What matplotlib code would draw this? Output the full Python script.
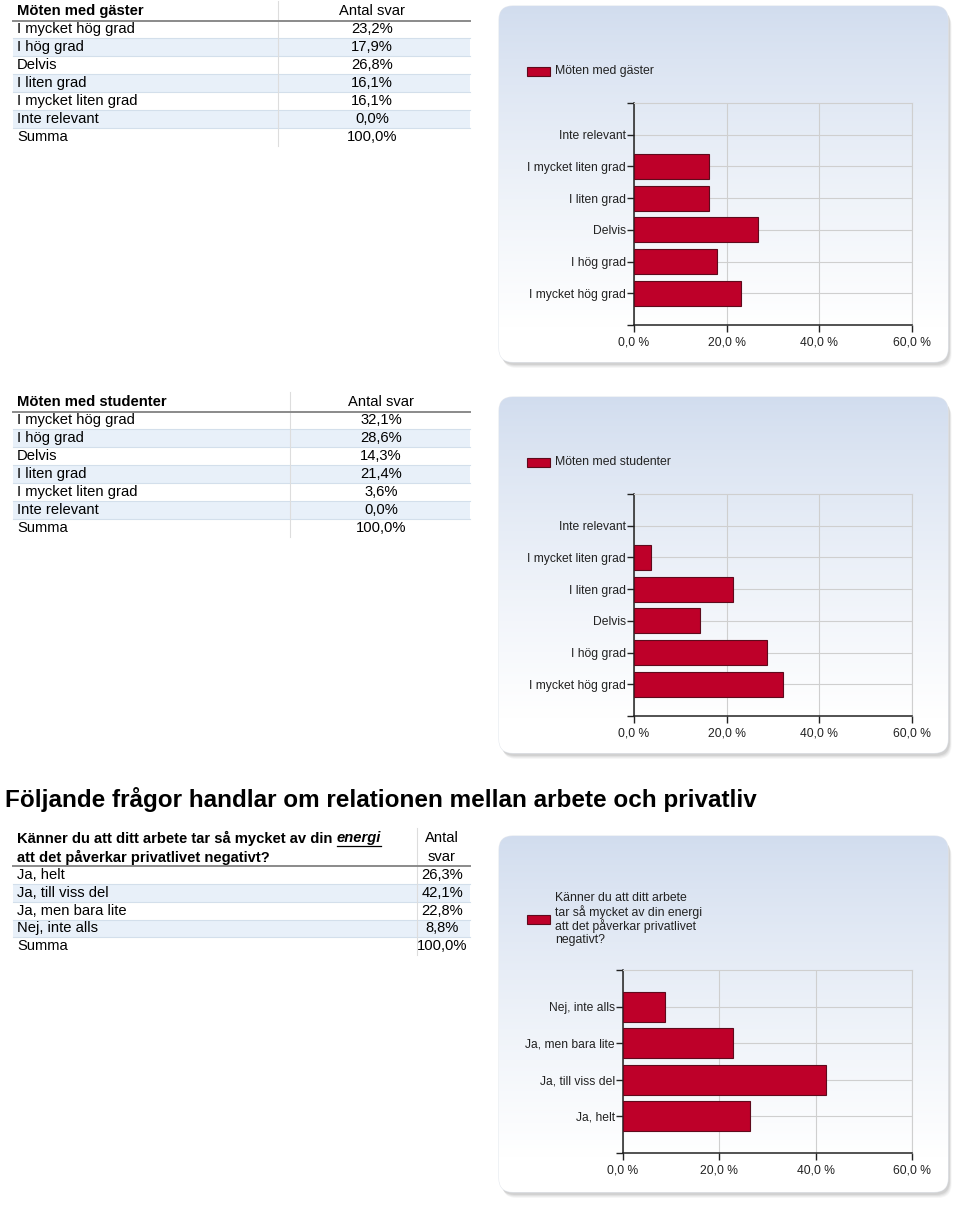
import numpy as np
import matplotlib
matplotlib.use("Agg")
import matplotlib.pyplot as plt
from matplotlib.patches import FancyBboxPatch, Rectangle

# ---------------- data ----------------
cats_grad = ["I mycket hög grad", "I hög grad", "Delvis", "I liten grad",
             "I mycket liten grad", "Inte relevant"]
gaster = [23.2, 17.9, 26.8, 16.1, 16.1, 0.0]
studenter = [32.1, 28.6, 14.3, 21.4, 3.6, 0.0]
cats_energi = ["Ja, helt", "Ja, till viss del", "Ja, men bara lite", "Nej, inte alls"]
energi = [26.3, 42.1, 22.8, 8.8]
summa = 100.0
x_ticks = [0, 20, 40, 60]

title1 = "Möten med gäster"
title2 = "Möten med studenter"
section_title = "Följande frågor handlar om relationen mellan arbete och privatliv"
q3_line1a = "Känner du att ditt arbete tar så mycket av din "
q3_line1b = "energi"
q3_line2 = "att det påverkar privatlivet negativt?"
legend3 = "Känner du att ditt arbete\ntar så mycket av din energi\natt det påverkar privatlivet\nnegativt?"

def pct(v):
    return f"{v:.1f}%".replace(".", ",")

def tick_lab(v):
    return f"{v:.1f} %".replace(".", ",")

# ---------------- style ----------------
W, H = 960, 1206
BAR = "#be0029"
BAR_EDGE = "#5e0a1c"
ROWBLUE = "#e8f0f9"
SEP = "#d3dfeb"
FONT = "Liberation Sans"

fig = plt.figure(figsize=(W / 100, H / 100), dpi=100)
fig.patch.set_facecolor("white")

bg = fig.add_axes([0, 0, 1, 1])
bg.set_xlim(0, W)
bg.set_ylim(H, 0)
bg.axis("off")


def fax(x0, y0, x1, y1):
    return fig.add_axes([x0 / W, 1 - y1 / H, (x1 - x0) / W, (y1 - y0) / H])


def panel(x0, y0, x1, y1):
    w, h = x1 - x0, y1 - y0
    for k, a in enumerate([0.05, 0.06, 0.08, 0.10]):
        off = 6 - k
        bg.add_patch(FancyBboxPatch((x0 + off * 0.6, y0 + off), w, h,
                                    boxstyle="round,pad=0,rounding_size=14",
                                    fc="#555555", ec="none", alpha=a, zorder=1))
    patch = FancyBboxPatch((x0, y0), w, h, boxstyle="round,pad=0,rounding_size=14",
                           fc="white", ec="#e4e8ee", lw=0.8, zorder=2)
    bg.add_patch(patch)
    t = np.linspace(0, 1, 256)
    f = np.clip(t / 0.9, 0, 1) ** 0.85
    top = np.array([0.82, 0.865, 0.935])
    col = top[None, :] * (1 - f[:, None]) + np.array([1, 1, 1])[None, :] * f[:, None]
    img = np.repeat(col[:, None, :], 4, axis=1)
    im = bg.imshow(img, extent=[x0, x1, y1, y0], aspect="auto", zorder=3,
                   interpolation="bilinear")
    im.set_clip_path(patch)
    bg.set_xlim(0, W)
    bg.set_ylim(H, 0)


def chart(x0, y0, x1, y1, cats, vals, bar_h):
    ax = fax(x0, y0, x1, y1)
    ax.patch.set_visible(False)
    n = len(cats)
    pos = np.arange(n)
    lws = [0.8 if v > 0 else 0 for v in vals]
    ax.barh(pos, vals, height=bar_h, color=BAR, edgecolor=BAR_EDGE, linewidth=lws, zorder=3)
    ax.set_xlim(x_ticks[0], x_ticks[-1])
    ax.set_ylim(-1, n)
    ax.set_yticks(pos)
    ax.set_yticklabels(cats, fontfamily=FONT, fontsize=8.7, color="#222222")
    ax.set_yticks([-1, n], minor=True)
    ax.set_xticks(x_ticks)
    ax.set_xticklabels([tick_lab(v) for v in x_ticks], fontfamily=FONT,
                       fontsize=8.7, color="#222222")
    ax.grid(True, color="#cfcfcf", lw=0.8, zorder=0)
    ax.set_axisbelow(True)
    for s in ("top", "right"):
        ax.spines[s].set_color("#cfcfcf")
        ax.spines[s].set_linewidth(0.8)
    for s in ("left", "bottom"):
        ax.spines[s].set_color("#222222")
        ax.spines[s].set_linewidth(1.1)
    ax.tick_params(which="both", direction="out", length=5, width=1, color="#222222")
    ax.tick_params(axis="y", pad=1)
    ax.tick_params(axis="x", pad=3)
    return ax


def legend(y, label, rect_y=None):
    ry = y if rect_y is None else rect_y
    bg.add_patch(Rectangle((527, ry - 4.5), 23, 9, fc=BAR, ec=BAR_EDGE, lw=0.8, zorder=5))
    bg.text(555, y, label, fontfamily=FONT, fontsize=8.8, color="#222222",
            va="center", ha="left", zorder=5, linespacing=1.05)


def table(y_head, title, cats, vals, x_div, x_val):
    x_left, x_right = 13, 470
    n = len(cats) + 1
    row0 = y_head + 18
    for i in range(n):
        yc = row0 + 18 * i
        if i % 2 == 1:
            bg.add_patch(Rectangle((x_left, yc - 9), x_right - x_left, 18,
                                   fc=ROWBLUE, ec="none", zorder=1))
        if i < n - 1:
            bg.plot([x_left, x_right], [yc + 9, yc + 9], color=SEP, lw=0.8, zorder=2)
    bg.plot([x_div, x_div], [y_head - 10, row0 + 18 * (n - 1) + 9], color="#dddddd",
            lw=0.8, zorder=2)
    bg.plot([x_left, x_right], [y_head + 9.5, y_head + 9.5], color="#8a8a8a", lw=1.4, zorder=3)
    bg.text(17, y_head, title, fontfamily=FONT, fontsize=10.6, fontweight="bold",
            va="center", ha="left", zorder=4)
    bg.text(x_val, y_head, "Antal svar", fontfamily=FONT, fontsize=10.6,
            va="center", ha="center", zorder=4)
    labels = list(cats) + ["Summa"]
    values = list(vals) + [summa]
    for i, (lab, v) in enumerate(zip(labels, values)):
        yc = row0 + 18 * i
        bg.text(17, yc, lab, fontfamily=FONT, fontsize=10.6, va="center", ha="left", zorder=4)
        bg.text(x_val, yc, pct(v), fontfamily=FONT, fontsize=10.6, va="center",
                ha="center", zorder=4)


# ---------------- panels ----------------
panel(499, 6, 948, 362)
panel(499, 397, 948, 753)
panel(499, 836, 948, 1192)

chart(634, 103, 912, 325, cats_grad, gaster, 0.78)
chart(634, 494, 912, 716, cats_grad, studenter, 0.78)
chart(623, 970, 912, 1153, cats_energi, energi, 0.82)

legend(71, title1)
legend(462, title2)
legend(919, legend3, rect_y=919)

# ---------------- tables ----------------
table(11, title1, cats_grad, gaster, 278, 372)
table(402, title2, cats_grad, studenter, 290, 381)

bg.text(5, 800, section_title, fontfamily=FONT, fontsize=17.5, fontweight="bold",
        va="center", ha="left", zorder=4)

# table 3
x_left, x_right, x_div, x_val = 13, 470, 417, 442
row0, step = 875, 17.8
n3 = len(cats_energi) + 1
for i in range(n3):
    yc = row0 + step * i
    if i % 2 == 1:
        bg.add_patch(Rectangle((x_left, yc - step / 2), x_right - x_left, step,
                               fc=ROWBLUE, ec="none", zorder=1))
    if i < n3 - 1:
        bg.plot([x_left, x_right], [yc + step / 2, yc + step / 2], color=SEP, lw=0.8, zorder=2)
bg.plot([x_div, x_div], [828, row0 + step * (n3 - 1) + 9], color="#dddddd", lw=0.8, zorder=2)
bg.plot([x_left, x_right], [866, 866], color="#8a8a8a", lw=1.4, zorder=3)

t1 = bg.text(17, 838, q3_line1a, fontfamily=FONT, fontsize=10.6, fontweight="bold",
             va="center", ha="left", zorder=4)
fig.canvas.draw()
r = fig.canvas.get_renderer()
bb = t1.get_window_extent(renderer=r)
x_end = bb.x1 * W / fig.bbox.width
t2 = bg.text(x_end, 838, q3_line1b, fontfamily=FONT, fontsize=10.6, fontweight="bold",
             style="italic", va="center", ha="left", zorder=4)
bb2 = t2.get_window_extent(renderer=r)
bg.plot([bb2.x0 * W / fig.bbox.width, bb2.x1 * W / fig.bbox.width], [845.5, 845.5],
        color="black", lw=0.9, zorder=4)
bg.text(17, 857, q3_line2, fontfamily=FONT, fontsize=10.6, fontweight="bold",
        va="center", ha="left", zorder=4)
bg.text(x_val, 838, "Antal", fontfamily=FONT, fontsize=10.6, va="center", ha="center", zorder=4)
bg.text(x_val, 857, "svar", fontfamily=FONT, fontsize=10.6, va="center", ha="center", zorder=4)
for i, (lab, v) in enumerate(zip(list(cats_energi) + ["Summa"], list(energi) + [summa])):
    yc = row0 + step * i
    bg.text(17, yc, lab, fontfamily=FONT, fontsize=10.6, va="center", ha="left", zorder=4)
    bg.text(x_val, yc, pct(v), fontfamily=FONT, fontsize=10.6, va="center", ha="center", zorder=4)

fig.savefig("out.png", dpi=100, facecolor="white")
